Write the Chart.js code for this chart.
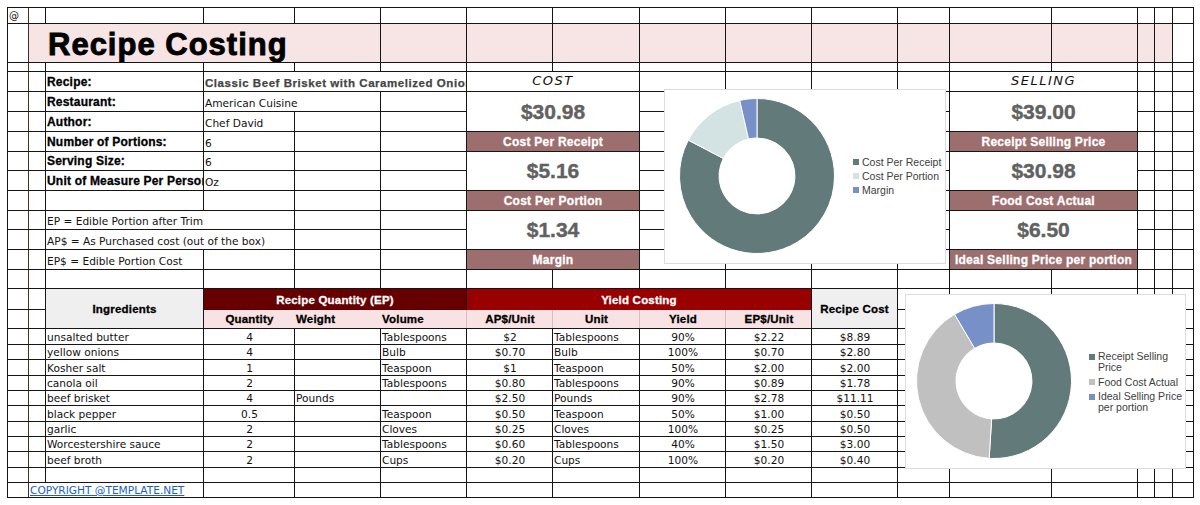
<!DOCTYPE html>
<html lang="en">
<head>
  <meta charset="UTF-8">
  <meta name="viewport" content="width=device-width, initial-scale=1.0">
  <title>Recipe Costing</title>
  <script src="https://cdn.jsdelivr.net/npm/chart.js"></script>
  <style>
    body { margin: 0; background: #fff; }
    #sheet { position: relative; width: 1200px; height: 505px; overflow: hidden; font-family: "DejaVu Sans", sans-serif; }
    .c { position: absolute; box-sizing: border-box; display: flex; align-items: center; overflow: hidden; white-space: nowrap; font-size: 10.6px; color: #111; }
    .chart-box { position: absolute; background: #fff; border: 1px solid #dcdcdc; box-sizing: border-box; }
    .chart-box canvas { position: absolute; left: 0; top: 0; }
    .legend { position: absolute; font-family: "Liberation Sans", Arial, sans-serif; font-size: 10.5px; color: #404040; line-height: 11px; }
    .legend .item { display: flex; align-items: flex-start; }
    .legend .sw { width: 6px; height: 6px; margin-top: 2.5px; margin-right: 3px; flex: none; }
  </style>
</head>
<body>
  <div id="sheet">
    <div class="chart-box" id="box1" style="left:664px;top:89px;width:282px;height:175px;">
      <canvas id="costChart" width="184" height="172"></canvas>
    </div>
    <div class="chart-box" id="box2" style="left:905px;top:294px;width:281px;height:175px;">
      <canvas id="sellChart" width="176" height="172"></canvas>
    </div>
  </div>

  <script>
    // ---- data ----
    const infoLabels = ['Recipe:', 'Restaurant:', 'Author:', 'Number of Portions:', 'Serving Size:', 'Unit of Measure Per Person:'];
    const infoValues = ['Classic Beef Brisket with Caramelized Onions', 'American Cuisine', 'Chef David', '6', '6', 'Oz'];
    const notes = ['EP = Edible Portion after Trim', 'AP$ = As Purchased cost (out of the box)', 'EP$ = Edible Portion Cost'];

    const costLabels = ['Cost Per Receipt', 'Cost Per Portion', 'Margin'];
    const costValues = [30.98, 5.16, 1.34];
    const costColors = ['#627a7a', '#d3e2e2', '#7890c8'];

    const sellLabels = ['Receipt Selling Price', 'Food Cost Actual', 'Ideal Selling Price per portion'];
    const sellValues = [39.00, 30.98, 6.50];
    const sellColors = ['#627a7a', '#c0c0c0', '#7890c8'];

    const ingredients = ['unsalted butter', 'yellow onions', 'Kosher salt', 'canola oil', 'beef brisket', 'black pepper', 'garlic', 'Worcestershire sauce', 'beef broth'];
    const quantities = ['4', '4', '1', '2', '4', '0.5', '2', '2', '2'];
    const weights = ['', '', '', '', 'Pounds', '', '', '', ''];
    const volumes = ['Tablespoons', 'Bulb', 'Teaspoon', 'Tablespoons', '', 'Teaspoon', 'Cloves', 'Tablespoons', 'Cups'];
    const apPerUnit = ['$2', '$0.70', '$1', '$0.80', '$2.50', '$0.50', '$0.25', '$0.60', '$0.20'];
    const units = ['Tablespoons', 'Bulb', 'Teaspoon', 'Tablespoons', 'Pounds', 'Teaspoon', 'Cloves', 'Tablespoons', 'Cups'];
    const yields = ['90%', '100%', '50%', '90%', '90%', '50%', '100%', '40%', '100%'];
    const epPerUnit = ['$2.22', '$0.70', '$2.00', '$0.89', '$2.78', '$1.00', '$0.25', '$1.50', '$0.20'];
    const recipeCost = ['$8.89', '$2.80', '$2.00', '$1.78', '$11.11', '$0.50', '$0.50', '$3.00', '$0.40'];

    // ---- sheet layout ----
    const colX = [7, 28, 45, 203, 294, 380, 466, 552, 639, 725, 811, 897, 949, 1051, 1137, 1154, 1172, 1193];
    const rowY = [7, 23, 62, 71, 91, 111, 131, 151, 170, 190, 210, 229, 249, 269, 288, 309, 328, 344, 359, 375, 390, 405, 421, 436, 451, 467, 482, 497];

    const LINE = '#151515';
    const PINK = '#f7e4e5';
    const MAROON = '#9d6e6e';
    const ARIAL = '"Liberation Sans", Arial, sans-serif';
    // heavy bold, close to the Arial Black look of the sheet labels
    const boldCss = {
      fontFamily: ARIAL, fontWeight: 'bold', fontSize: '12px', color: '#000',
      letterSpacing: '0.2px', webkitTextStroke: '0.3px currentColor'
    };

    const sheet = document.getElementById('sheet');
    const firstChart = document.getElementById('box1');

    function box(x, y, w, h, css, text) {
      const d = document.createElement('div');
      d.className = 'c';
      Object.assign(d.style, { left: x + 'px', top: y + 'px', width: w + 'px', height: h + 'px' }, css || {});
      if (text !== undefined) d.textContent = text;
      sheet.insertBefore(d, firstChart);
      return d;
    }
    // a cell between grid lines (keeps the border pixels visible)
    function cell(x1, y1, x2, y2, text, css) {
      return box(x1 + 1, y1 + 1, x2 - x1 - 1, y2 - y1 - 1, css, text);
    }

    // title band behind the grid
    box(28, 23, 1144, 39, { background: PINK });

    // grid lines
    colX.forEach(x => box(x, 7, 1, 491, { background: x === 28 ? '#4a2c2c' : LINE }));
    rowY.forEach(y => box(7, y, 1187, 1, { background: LINE }));

    cell(7, 7, 28, 23, '@', { fontSize: '10px', paddingLeft: '1px' });
    cell(28, 23, 380, 62, 'Recipe Costing', {
      background: PINK, fontFamily: ARIAL, fontWeight: 'bold', fontSize: '31px', color: '#000',
      letterSpacing: '1px', webkitTextStroke: '0.9px #000', paddingLeft: '19px', paddingTop: '3px'
    });

    // recipe info
    const valueEnd = [466, 380, 294, 294, 294, 294];
    infoLabels.forEach((lab, i) => {
      const y1 = rowY[3 + i], y2 = rowY[4 + i];
      cell(45, y1, 203, y2, lab, Object.assign({}, boldCss, { alignItems: 'flex-end', paddingLeft: '1px', paddingBottom: '2px' }));
      const css = { background: '#fff', alignItems: 'flex-end', paddingBottom: '2px', paddingLeft: '1px' };
      if (i === 0) Object.assign(css, { fontFamily: ARIAL, fontWeight: 'bold', fontSize: '11.5px', color: '#444', letterSpacing: '0.55px', webkitTextStroke: '0.25px #444' });
      cell(203, y1, valueEnd[i], y2, infoValues[i], css);
    });
    const noteEnd = [294, 294, 203];
    notes.forEach((t, i) => {
      cell(45, rowY[10 + i], noteEnd[i], rowY[11 + i], t, { background: '#fff', alignItems: 'flex-end', paddingBottom: '2px', paddingLeft: '1px' });
    });

    // cost / selling cards (values come from the chart arrays)
    function cards(x1, x2, heading, labels, values) {
      cell(x1, rowY[3], x2, rowY[4], heading, {
        background: '#fff', justifyContent: 'center', alignItems: 'flex-start', paddingTop: '1px',
        fontSize: '13px', fontStyle: 'italic', letterSpacing: '1.5px', color: '#111'
      });
      const spans = [[4, 6], [7, 9], [10, 12]];
      spans.forEach(([a, b], i) => {
        cell(x1, rowY[a], x2, rowY[b], '$' + values[i].toFixed(2), {
          background: '#fff', justifyContent: 'center', fontFamily: ARIAL, fontWeight: 'bold', fontSize: '21px',
          color: '#616161', webkitTextStroke: '0.4px #616161'
        });
        cell(x1, rowY[b], x2, rowY[b + 1], labels[i], {
          background: MAROON, justifyContent: 'center', fontFamily: ARIAL, fontWeight: 'bold', fontSize: '12px',
          color: '#fff', letterSpacing: '0.25px', webkitTextStroke: '0.3px #fff'
        });
      });
    }
    cards(466, 639, 'COST', costLabels, costValues);
    cards(949, 1137, 'SELLING', sellLabels, sellValues);

    // ingredient table header
    const hdr = Object.assign({}, boldCss, { fontSize: '11.5px', justifyContent: 'center' });
    cell(45, rowY[14], 203, rowY[16], 'Ingredients', Object.assign({}, hdr, { background: '#efefef' }));
    cell(811, rowY[14], 897, rowY[16], 'Recipe Cost', Object.assign({}, hdr, { background: '#efefef' }));
    cell(203, rowY[14], 466, rowY[15], 'Recipe Quantity (EP)', Object.assign({}, hdr, { background: '#660000', color: '#fff', height: '21px' }));
    cell(466, rowY[14], 811, rowY[15], 'Yield Costing', Object.assign({}, hdr, { background: '#990000', color: '#fff', height: '21px' }));
    box(204, rowY[15] + 1, 607, rowY[16] - rowY[15] - 1, { background: '#f9e2e3' });
    [466, 552, 639, 725].forEach(x => box(x, rowY[15] + 1, 1, rowY[16] - rowY[15] - 1, { background: '#d9bdbd' }));

    const tableCols = [
      { x1: 45, x2: 203, head: null, vals: ingredients, align: 'left' },
      { x1: 203, x2: 294, head: 'Quantity', vals: quantities, align: 'center' },
      { x1: 294, x2: 380, head: 'Weight', vals: weights, align: 'left' },
      { x1: 380, x2: 466, head: 'Volume', vals: volumes, align: 'left' },
      { x1: 466, x2: 552, head: 'AP$/Unit', vals: apPerUnit, align: 'center' },
      { x1: 552, x2: 639, head: 'Unit', vals: units, align: 'left', headAlign: 'center' },
      { x1: 639, x2: 725, head: 'Yield', vals: yields, align: 'center' },
      { x1: 725, x2: 811, head: 'EP$/Unit', vals: epPerUnit, align: 'center' },
      { x1: 811, x2: 897, head: null, vals: recipeCost, align: 'center' }
    ];
    const just = a => (a === 'center' ? 'center' : 'flex-start');
    tableCols.forEach(col => {
      if (col.head) {
        cell(col.x1, rowY[15], col.x2, rowY[16], col.head,
          Object.assign({}, boldCss, { fontSize: '11.5px', justifyContent: just(col.headAlign || col.align), paddingLeft: '1px' }));
      }
      col.vals.forEach((v, i) => {
        cell(col.x1, rowY[16 + i], col.x2, rowY[17 + i], v, { justifyContent: just(col.align), paddingLeft: '1px', color: '#111' });
      });
    });

    cell(28, rowY[26], 203, rowY[27], 'COPYRIGHT @TEMPLATE.NET', {
      background: '#fff', color: '#1a5fc4', textDecoration: 'underline', paddingLeft: '1px'
    });

    // ---- doughnut charts ----
    function donut(id, labels, values, colors) {
      return new Chart(document.getElementById(id), {
        type: 'doughnut',
        data: {
          labels: labels,
          datasets: [{ data: values, backgroundColor: colors, borderColor: '#ffffff', borderWidth: 1 }]
        },
        options: {
          responsive: false,
          animation: false,
          cutout: '49%',
          layout: { padding: 8 },
          plugins: { legend: { display: false }, tooltip: { enabled: false } }
        }
      });
    }

    function htmlLegend(chart, host, left, top, gap, textWidth) {
      const wrap = document.createElement('div');
      wrap.className = 'legend';
      wrap.style.left = left + 'px';
      wrap.style.top = top + 'px';
      const ds = chart.data.datasets[0];
      chart.data.labels.forEach((lab, i) => {
        const it = document.createElement('div');
        it.className = 'item';
        it.style.marginBottom = gap + 'px';
        const sw = document.createElement('span');
        sw.className = 'sw';
        sw.style.background = ds.backgroundColor[i];
        const tx = document.createElement('span');
        tx.textContent = lab;
        if (textWidth) { tx.style.width = textWidth + 'px'; tx.style.whiteSpace = 'normal'; }
        it.appendChild(sw);
        it.appendChild(tx);
        wrap.appendChild(it);
      });
      host.appendChild(wrap);
    }

    const costChart = donut('costChart', costLabels, costValues, costColors);
    const sellChart = donut('sellChart', sellLabels, sellValues, sellColors);
    htmlLegend(costChart, document.getElementById('box1'), 188, 66.5, 3, null);
    htmlLegend(sellChart, document.getElementById('box2'), 183, 56, 3.5, 89);
  </script>
</body>
</html>
